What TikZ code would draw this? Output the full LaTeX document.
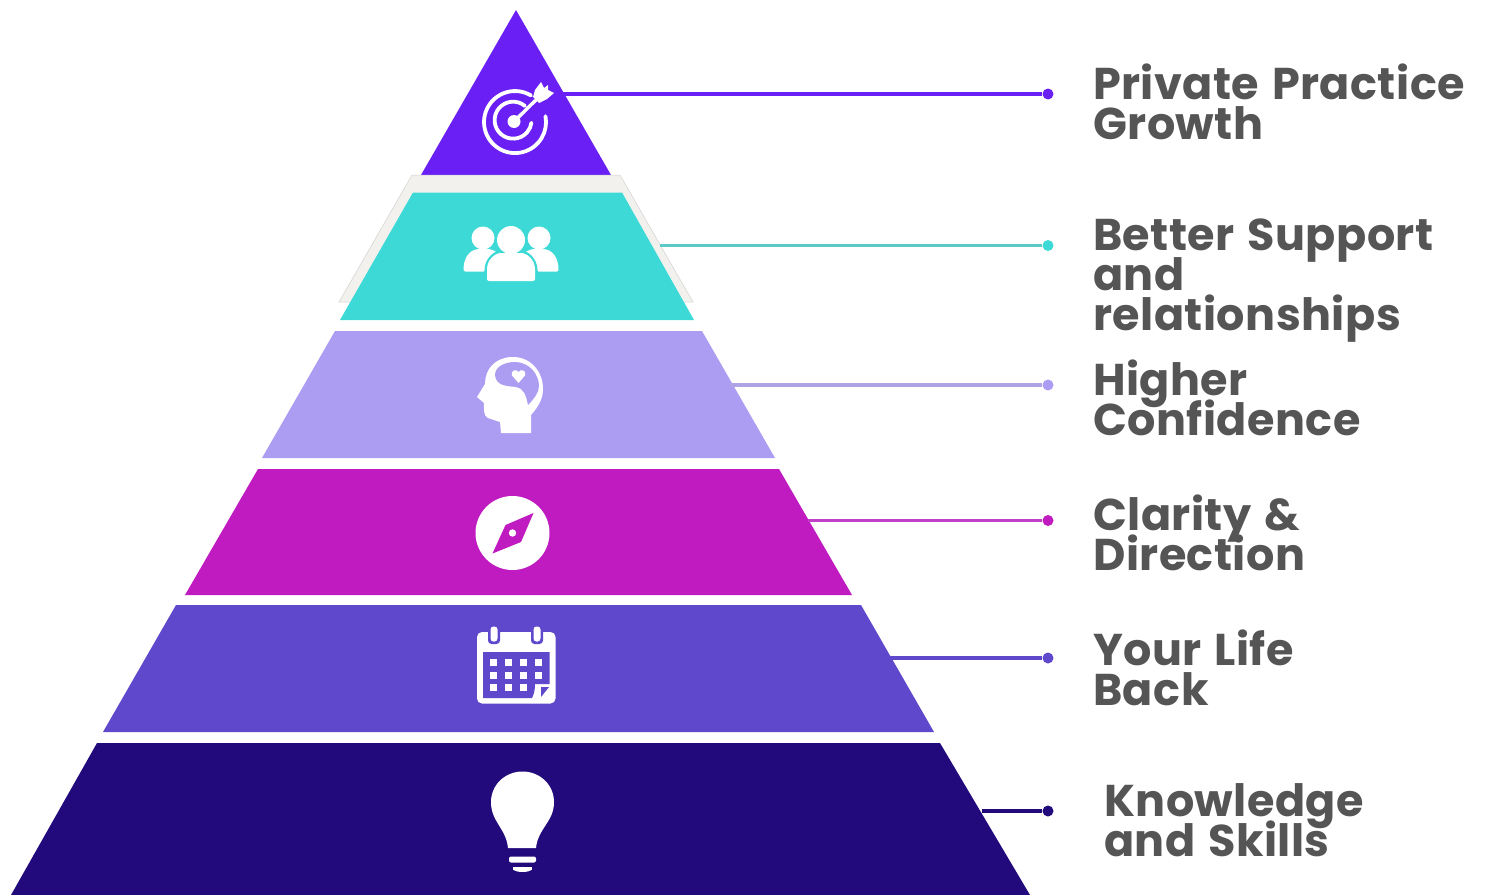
\documentclass[tikz,border=0pt]{standalone}
\usepackage{fontspec}
\setmainfont{Poppins}[BoldFont={Poppins Bold},BoldFeatures={LetterSpace=1,WordSpace=1.3}]
\definecolor{cTop}{HTML}{6A1FF5}
\definecolor{cTeal}{HTML}{3DD9D6}
\definecolor{cLav}{HTML}{AC9DF2}
\definecolor{cMag}{HTML}{C01BC0}
\definecolor{cVio}{HTML}{5F48CB}
\definecolor{cNavy}{HTML}{230A7C}
\definecolor{cText}{HTML}{555555}
\definecolor{cGhost}{HTML}{F3F1EE}
\definecolor{cTealLine}{HTML}{5CC9C9}
\definecolor{cLavLine}{HTML}{AFA3E5}
\definecolor{cMagLine}{HTML}{C23FC8}
\newcommand{\lblfont}{\fontsize{44.5}{40}\selectfont\bfseries\lineskiplimit=-100pt\relax}
\tikzset{
  x=1pt,y=-1pt,
  conn/.style={line width=3.2pt},
  dotnode/.style={circle,inner sep=0pt,minimum size=11pt},
  lbl/.style={anchor=north west,inner sep=0pt,align=left,text=cText,font=\lblfont},
  icon/.style={fill=white,draw=none},
}
\newcommand{\fl}{\rule{0pt}{35pt}}
\begin{document}
\begin{tikzpicture}
\useasboundingbox (0,0) rectangle (1488,894);
\clip (0,0) rectangle (1488,894);
% layers
\fill[cTop] (516,10) -- (611,175) -- (421,175) -- cycle;
\fill[cGhost,draw=black!18,line width=.5pt] (412,175) -- (620,175) -- (693,302) -- (339,302) -- cycle;
\fill[cTeal] (413,192.5) -- (622,192.5) -- (694,320) -- (340,320) -- cycle;
\fill[cLav] (335,331) -- (702,331) -- (775,458) -- (262,458) -- cycle;
\fill[cMag] (258,469) -- (779,469) -- (852,595) -- (185,595) -- cycle;
\fill[cVio] (176,605) -- (861,605) -- (934,732) -- (103,732) -- cycle;
\fill[cNavy] (97,743) -- (940,743) -- (1030,895) -- (11,895) -- cycle;
% connector ends
\coordinate (s1) at (562,94);
\coordinate (s2) at (660,245.5);
\coordinate (s3) at (730,385);
\coordinate (s4) at (808,520.5);
\coordinate (s5) at (890,658);
\coordinate (s6) at (982,811);
\node[dotnode,fill=cTop]  (d1) at (1048,94) {};
\node[dotnode,fill=cTeal] (d2) at (1048,245.5) {};
\node[dotnode,fill=cLav]  (d3) at (1048,385) {};
\node[dotnode,fill=cMag]  (d4) at (1048,520.5) {};
\node[dotnode,fill=cVio]  (d5) at (1048,658) {};
\node[dotnode,fill=cNavy] (d6) at (1048,811) {};
\draw[conn,cTop] (s1) -- (d1);
\draw[conn,cTealLine] (s2) -- (d2);
\draw[conn,cLavLine] (s3) -- (d3);
\draw[conn,cMagLine] (s4) -- (d4);
\draw[conn,cVio] (s5) -- (d5);
\draw[conn,cNavy] (s6) -- (d6);
% labels
\node[lbl] (t1) at (1093,64) {\fl Private Practice\\Growth};
\node[lbl] (t2) at (1093,215) {\fl Better Support\\and\\relationships};
\node[lbl] (t3) at (1093,360) {\fl Higher\\Confidence};
\node[lbl] (t4) at (1093,495) {\fl Clarity \&\\Direction};
\node[lbl] (t5) at (1093,630) {\fl Your Life\\Back};
\node[lbl] (t6) at (1104,781) {\fl Knowledge\\and Skills};
% target icon
\draw[white,line width=3.8pt,line cap=round] (531,95.5) arc[start angle=-59,end angle=-371,radius=31];
\draw[white,line width=3.8pt,line cap=round] (525,106) arc[start angle=-50,end angle=-352,radius=18.5];
\fill[white] (514,121.5) circle (6.5);
\draw[white,line width=3.4pt] (514,121.5) -- (541,95);
\fill[white] (533,97) -- (535,90) -- (541,82) -- (544,88) -- (548,85) -- (548,90) -- (554,93) -- (547,99) -- (539,103) -- cycle;
% group icon
\fill[icon] (483,238) circle (11.5);
\fill[icon] (539,238) circle (11.5);
\fill[icon,rounded corners=1.5pt] (463.5,271.5) .. controls (463.5,257) and (470,249.5) .. (480,249) -- (490,249) -- (497,252) -- (487,262) -- (485,271.5) -- cycle;
\fill[icon,rounded corners=1.5pt] (558.5,271.5) .. controls (558.5,257) and (552,249.5) .. (542,249) -- (532,249) -- (525,252) -- (535,262) -- (537,271.5) -- cycle;
\fill[cTeal] (511,240) circle (16);
\fill[cTeal] (484.5,283) -- (484.5,270) .. controls (484.5,258) and (495,250) .. (502,250) -- (520,250) .. controls (527,250) and (537.5,258) .. (537.5,270) -- (537.5,283) -- cycle;
\fill[icon] (511,240) circle (14);
\fill[icon,rounded corners=2pt] (487,281) -- (487,271) .. controls (487,260) and (495,253) .. (503,253) -- (519,253) .. controls (527,253) and (535,260) .. (535,271) -- (535,281) -- cycle;
% head icon
\fill[icon] (511,357) .. controls (530,356) and (543,371) .. (543,389) .. controls (543,397) and (540,405) .. (531,415) -- (531,433) -- (501,433) -- (500,422) -- (488,418) .. controls (483,416) and (484,408) .. (484,403) -- (477,397) -- (485,384) .. controls (485,369) and (495,358) .. (511,357) -- cycle;
\fill[cLav] (495,375) .. controls (495,366) and (506,362) .. (515,362) .. controls (529,362) and (539,374) .. (539,386) .. controls (539,392) and (534,399) .. (528,405) .. controls (526,394) and (523,388) .. (516,387) .. controls (507,386) and (496,386) .. (495,375) -- cycle;
\fill[white] (518.5,383) -- (512,375.5) .. controls (510,371) and (516,368) .. (518.5,372) .. controls (521,368) and (527,371) .. (525,375.5) -- cycle;
% compass icon
\fill[icon] (512.5,533) circle (37);
\fill[cMag] (533.5,513) -- (521,542) -- (492.5,553.5) -- (505.5,525) -- cycle;
\fill[white] (512.5,533) circle (3.7);
% calendar icon
\fill[icon,rounded corners=5pt] (477,632) rectangle (555.5,703.5);
\fill[cVio] (483,652) -- (549.5,652) -- (549.5,684) -- (535,684) .. controls (535,690) and (534,694) .. (532,698) -- (483,698) -- cycle;
\foreach \rx in {494,537}{
  \fill[cVio,rounded corners=3.5pt] (\rx-6,624) rectangle (\rx+6,644);
  \fill[icon,rounded corners=3pt] (\rx-3.5,626.5) rectangle (\rx+3.5,641.5);
}
\foreach \gx in {493,508,523,538}{\foreach \gy in {662,675}{\fill[white] (\gx-3.5,\gy-3.5) rectangle (\gx+3.5,\gy+3.5);}}
\foreach \gx in {493,508,523}{\fill[white] (\gx-3.5,687-3.5) rectangle (\gx+3.5,687+3.5);}
\fill[cVio] (541,687) -- (549,687) -- (541,697) .. controls (541,693) and (541,690) .. (541,687) -- cycle;
% bulb icon
\fill[icon] (508,848) .. controls (506,828) and (491,822) .. (491,802) .. controls (491,785) and (505,771.5) .. (522.5,771.5) .. controls (540,771.5) and (554,785) .. (554,802) .. controls (554,822) and (538,828) .. (536,848) -- cycle;
\fill[icon,rounded corners=2pt] (509,856.5) rectangle (536,862.5);
\fill[icon] (513,867) rectangle (532,869.5);
\fill[icon] (513,869) -- (532,869) .. controls (530,873) and (515,873) .. (513,869) -- cycle;
\end{tikzpicture}
\end{document}
